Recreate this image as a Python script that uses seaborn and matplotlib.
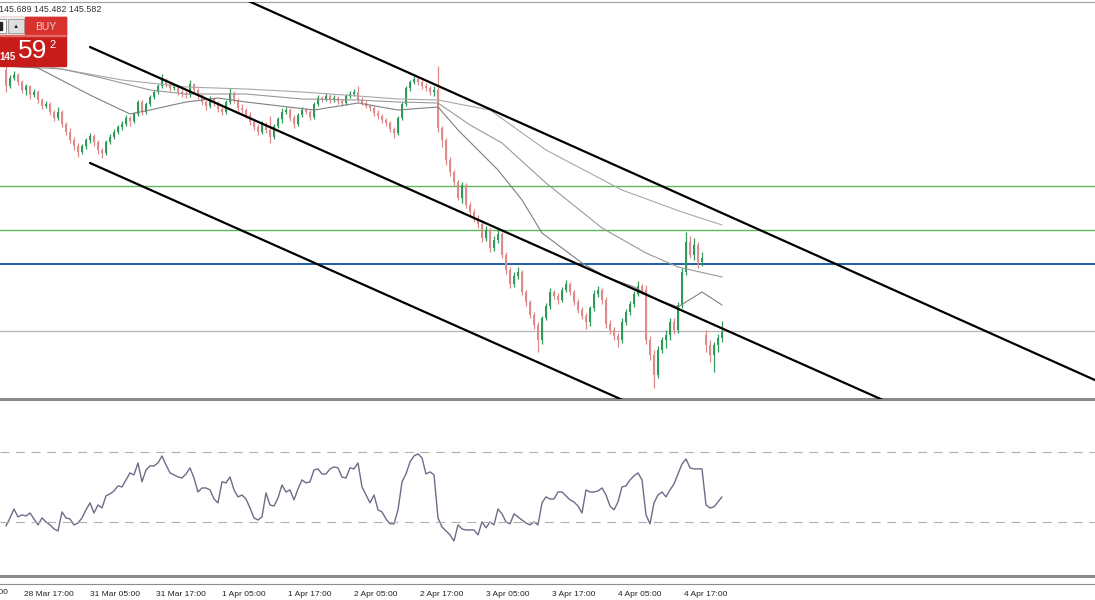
import matplotlib
matplotlib.use("Agg")
import numpy as np
import pandas as pd
import matplotlib.pyplot as plt
from matplotlib.patches import Rectangle
import seaborn as sns

# ==============================
# DATA (H1 bars)
# ==============================
opens = [
    148.20, 148.04, 148.12, 148.15, 148.08, 148.00, 148.04, 147.95, 147.98, 147.90,
    147.84, 147.86, 147.78, 147.72, 147.78, 147.66, 147.58, 147.50, 147.44, 147.38,
    147.44, 147.50, 147.54, 147.48, 147.40, 147.37, 147.48, 147.53, 147.58, 147.63,
    147.66, 147.72, 147.69, 147.76, 147.88, 147.78, 147.86, 147.93, 147.98, 148.04,
    148.10, 148.06, 148.02, 148.03, 147.98, 147.96, 147.95, 148.06, 148.00, 147.94,
    147.88, 147.84, 147.91, 147.87, 147.81, 147.78, 147.88, 147.97, 147.90, 147.82,
    147.80, 147.75, 147.68, 147.63, 147.58, 147.66, 147.60, 147.53, 147.64, 147.71,
    147.78, 147.80, 147.72, 147.66, 147.75, 147.80, 147.78, 147.73, 147.86, 147.92,
    147.91, 147.94, 147.90, 147.92, 147.89, 147.87, 147.94, 147.96, 147.98, 147.90,
    147.87, 147.84, 147.82, 147.77, 147.74, 147.70, 147.67, 147.61, 147.57, 147.72,
    147.86, 148.02, 148.08, 148.11, 148.08, 148.04, 148.02, 147.98, 148.00, 147.62,
    147.50, 147.30, 147.18, 147.08, 146.92, 147.05, 146.85, 146.78, 146.72, 146.66,
    146.52, 146.60, 146.42, 146.50, 146.56, 146.35, 146.20, 146.06, 146.14, 146.18,
    145.98, 145.88, 145.75, 145.65, 145.50, 145.72, 145.84, 145.98, 145.94, 145.90,
    146.00, 146.06, 145.98, 145.88, 145.80, 145.74, 145.68, 145.82, 145.96, 146.00,
    145.90, 145.66, 145.60, 145.54, 145.50, 145.68, 145.78, 145.86, 145.96, 146.04,
    146.00, 145.50, 145.35, 145.15, 145.40, 145.50, 145.55, 145.68, 145.60, 145.85,
    146.18, 146.48, 146.35, 146.45, 146.28, 145.55, 145.45, 145.35, 145.45, 145.52,
]
highs = [
    148.24, 148.15, 148.19, 148.17, 148.10, 148.06, 148.05, 148.01, 148.00, 147.92,
    147.89, 147.88, 147.80, 147.83, 147.80, 147.68, 147.62, 147.53, 147.47, 147.46,
    147.52, 147.57, 147.56, 147.50, 147.42, 147.50, 147.56, 147.61, 147.65, 147.69,
    147.75, 147.74, 147.78, 147.90, 147.90, 147.88, 147.95, 148.00, 148.06, 148.16,
    148.12, 148.08, 148.05, 148.05, 148.01, 147.99, 148.10, 148.07, 148.02, 147.96,
    147.90, 147.94, 147.93, 147.89, 147.83, 147.90, 148.02, 147.99, 147.92, 147.86,
    147.82, 147.78, 147.70, 147.66, 147.69, 147.68, 147.74, 147.66, 147.73, 147.82,
    147.83, 147.82, 147.75, 147.77, 147.83, 147.82, 147.80, 147.88, 147.95, 147.94,
    147.97, 147.96, 147.95, 147.94, 147.91, 147.96, 147.99, 148.01, 148.04, 147.93,
    147.89, 147.86, 147.84, 147.80, 147.76, 147.72, 147.69, 147.63, 147.74, 147.88,
    148.04, 148.10, 148.14, 148.13, 148.10, 148.07, 148.04, 148.04, 148.24, 147.64,
    147.52, 147.33, 147.20, 147.10, 147.08, 147.07, 146.88, 146.81, 146.75, 146.69,
    146.64, 146.62, 146.54, 146.61, 146.58, 146.38, 146.23, 146.18, 146.23, 146.20,
    146.00, 145.90, 145.78, 145.68, 145.74, 145.87, 146.02, 146.00, 145.97, 146.03,
    146.10, 146.08, 146.00, 145.91, 145.83, 145.77, 145.84, 146.00, 146.04, 146.02,
    145.93, 145.70, 145.63, 145.57, 145.72, 145.81, 145.89, 145.99, 146.09, 146.06,
    146.05, 145.54, 145.40, 145.44, 145.53, 145.60, 145.72, 145.72, 145.88, 146.22,
    146.58, 146.54, 146.52, 146.48, 146.38, 145.60, 145.50, 145.48, 145.56, 145.69,
]
lows = [
    147.98, 148.02, 148.10, 148.05, 147.97, 147.95, 147.91, 147.93, 147.87, 147.81,
    147.82, 147.75, 147.69, 147.70, 147.63, 147.55, 147.47, 147.40, 147.33, 147.36,
    147.41, 147.47, 147.44, 147.36, 147.32, 147.35, 147.46, 147.51, 147.56, 147.60,
    147.64, 147.64, 147.67, 147.74, 147.75, 147.76, 147.84, 147.91, 147.96, 148.02,
    148.03, 147.99, 148.00, 147.95, 147.93, 147.92, 147.93, 147.97, 147.91, 147.85,
    147.80, 147.82, 147.84, 147.78, 147.75, 147.76, 147.86, 147.87, 147.79, 147.77,
    147.72, 147.65, 147.60, 147.55, 147.56, 147.57, 147.47, 147.51, 147.62, 147.67,
    147.76, 147.69, 147.62, 147.64, 147.73, 147.76, 147.70, 147.71, 147.84, 147.88,
    147.89, 147.87, 147.88, 147.86, 147.84, 147.85, 147.92, 147.94, 147.88, 147.85,
    147.82, 147.79, 147.74, 147.71, 147.67, 147.64, 147.58, 147.52, 147.55, 147.70,
    147.84, 147.99, 148.06, 148.05, 148.01, 147.99, 147.95, 147.94, 147.58, 147.43,
    147.25, 147.14, 147.04, 146.90, 146.87, 146.82, 146.75, 146.68, 146.62, 146.48,
    146.49, 146.38, 146.39, 146.47, 146.32, 146.16, 146.02, 146.03, 146.11, 145.95,
    145.84, 145.72, 145.61, 145.38, 145.46, 145.70, 145.81, 145.91, 145.86, 145.88,
    145.98, 145.95, 145.85, 145.77, 145.71, 145.61, 145.64, 145.79, 145.93, 145.86,
    145.62, 145.56, 145.50, 145.43, 145.47, 145.65, 145.75, 145.83, 145.94, 145.96,
    145.46, 145.30, 145.02, 145.12, 145.37, 145.42, 145.50, 145.56, 145.57, 145.82,
    146.15, 146.32, 146.30, 146.22, 146.24, 145.38, 145.28, 145.18, 145.38, 145.48,
]
closes = [
    148.04, 148.12, 148.15, 148.08, 148.00, 148.04, 147.95, 147.98, 147.90, 147.84,
    147.86, 147.78, 147.72, 147.78, 147.66, 147.58, 147.50, 147.44, 147.38, 147.44,
    147.50, 147.54, 147.48, 147.40, 147.37, 147.48, 147.53, 147.58, 147.63, 147.66,
    147.72, 147.69, 147.76, 147.88, 147.78, 147.86, 147.93, 147.98, 148.04, 148.10,
    148.06, 148.02, 148.03, 147.98, 147.96, 147.95, 148.06, 148.00, 147.94, 147.88,
    147.84, 147.91, 147.87, 147.81, 147.78, 147.88, 147.97, 147.90, 147.82, 147.80,
    147.75, 147.68, 147.63, 147.58, 147.66, 147.60, 147.53, 147.64, 147.71, 147.78,
    147.80, 147.72, 147.66, 147.75, 147.80, 147.78, 147.73, 147.86, 147.92, 147.91,
    147.94, 147.90, 147.92, 147.89, 147.87, 147.94, 147.96, 147.98, 147.90, 147.87,
    147.84, 147.82, 147.77, 147.74, 147.70, 147.67, 147.61, 147.57, 147.72, 147.86,
    148.02, 148.08, 148.11, 148.08, 148.04, 148.02, 147.98, 148.00, 147.62, 147.50,
    147.30, 147.18, 147.08, 146.92, 147.05, 146.85, 146.78, 146.72, 146.66, 146.52,
    146.60, 146.42, 146.50, 146.56, 146.35, 146.20, 146.06, 146.14, 146.18, 145.98,
    145.88, 145.75, 145.65, 145.50, 145.72, 145.84, 145.98, 145.94, 145.90, 146.00,
    146.06, 145.98, 145.88, 145.80, 145.74, 145.68, 145.82, 145.96, 146.00, 145.90,
    145.66, 145.60, 145.54, 145.50, 145.68, 145.78, 145.86, 145.96, 146.04, 146.00,
    145.50, 145.35, 145.15, 145.40, 145.50, 145.55, 145.68, 145.60, 145.85, 146.18,
    146.48, 146.35, 146.45, 146.28, 146.32, 145.45, 145.35, 145.45, 145.52, 145.58,
]
rsi = [
    27.7, 32.3, 37.4, 32.9, 34.0, 33.4, 35.1, 31.7, 28.3, 32.3,
    30.0, 28.3, 26.0, 24.9, 35.7, 32.3, 31.7, 28.3, 29.4, 32.3,
    36.9, 40.9, 35.1, 39.7, 38.0, 44.9, 46.0, 47.7, 50.6, 50.0,
    54.0, 58.0, 56.9, 63.7, 52.9, 59.7, 62.0, 62.0, 63.7, 67.7,
    62.6, 58.0, 56.9, 55.7, 55.1, 57.4, 60.9, 55.1, 47.1, 49.4,
    49.4, 48.3, 43.1, 40.9, 52.9, 52.3, 55.7, 48.3, 44.3, 45.4,
    43.1, 38.0, 32.3, 31.1, 32.9, 46.6, 39.7, 39.1, 43.7, 51.1,
    47.1, 48.3, 42.6, 48.9, 54.0, 52.3, 52.9, 59.7, 60.3, 57.4,
    57.4, 60.3, 61.4, 60.9, 55.7, 55.1, 60.9, 60.3, 63.7, 50.0,
    45.4, 40.9, 45.4, 36.9, 35.7, 31.7, 28.9, 28.9, 36.9, 52.9,
    57.4, 64.3, 67.7, 68.9, 66.6, 57.4, 58.6, 56.9, 32.3, 27.1,
    24.9, 22.6, 19.1, 28.3, 26.0, 25.4, 25.4, 25.4, 22.6, 30.0,
    26.6, 30.0, 28.3, 37.4, 34.6, 30.0, 28.9, 34.6, 32.9, 31.1,
    29.4, 28.3, 30.0, 28.3, 40.9, 44.3, 43.1, 43.1, 47.1, 47.1,
    44.9, 42.6, 41.4, 39.1, 35.1, 48.3, 47.1, 47.1, 47.7, 49.4,
    45.4, 39.1, 36.9, 41.4, 50.0, 50.6, 54.0, 56.3, 58.0, 54.0,
    34.0, 28.9, 40.9, 45.4, 47.1, 44.3, 48.3, 51.7, 57.4, 63.1,
    66.0, 60.9, 60.3, 60.3, 60.3, 39.7, 38.0, 38.6, 41.4, 44.3,
]

# moving averages, read at a few bars along each line
ma_slow_bar = [0, 11, 29, 45, 60, 74, 88, 98, 108, 121, 135, 154, 169, 179]
ma_slow = [148.26, 148.23, 148.10, 148.03, 148.01, 147.98, 147.94, 147.91, 147.90,
           147.80, 147.40, 147.00, 146.78, 146.65]
ma_mid_bar = [0, 14, 24, 36, 45, 60, 74, 88, 98, 108, 116, 124, 135, 149, 160, 168, 179]
ma_mid = [148.24, 148.21, 148.12, 148.00, 147.96, 147.96, 147.91, 147.90, 147.88,
          147.87, 147.65, 147.47, 147.07, 146.62, 146.37, 146.23, 146.13]
ma_fast_bar = [0, 8, 21, 31, 36, 45, 53, 60, 77, 88, 98, 108, 113, 118, 123, 129,
               134, 144, 150, 157, 163, 168, 174, 179]
ma_fast = [148.24, 148.22, 147.95, 147.76, 147.80, 147.88, 147.92, 147.88, 147.80,
           147.87, 147.80, 147.83, 147.60, 147.40, 147.20, 146.90, 146.57, 146.27,
           146.13, 146.03, 145.90, 145.83, 145.98, 145.85]

# trend channel anchors (bar, price)
chan_upper_bar = [50, 275]
chan_upper = [149.08, 145.05]
chan_mid_bar = [21, 240]
chan_mid = [148.43, 144.53]
chan_low_bar = [21, 180]
chan_low = [147.27, 144.44]

green_levels = [147.04, 146.60]
blue_level = 146.26
bid_price = 145.59

time_labels = ["28 Mar 05:00", "28 Mar 17:00", "31 Mar 05:00", "31 Mar 17:00",
               "1 Apr 05:00", "1 Apr 17:00", "2 Apr 05:00", "2 Apr 17:00",
               "3 Apr 05:00", "3 Apr 17:00", "4 Apr 05:00", "4 Apr 17:00"]

# ==============================
# STYLE
# ==============================
sns.set_theme(style="white")
plt.rcParams["font.family"] = ["Liberation Sans", "DejaVu Sans"]

UP = "#2f9a5a"
DOWN = "#e08a8a"
BORDER = "#8a8a8a"

W, H = 1095, 600
fig = plt.figure(figsize=(W / 100, H / 100), dpi=100, facecolor="white")


def px_axes(x0, y0, x1, y1):
    return fig.add_axes([x0 / W, 1 - y1 / H, (x1 - x0) / W, (y1 - y0) / H])


ax = px_axes(0, 2, W, 399)
ax_rsi = px_axes(0, 401, W, 576)
ax_t = px_axes(0, 583, W, 583.5)

xlim = (-1.5, 272.25)

# ==============================
# MAIN PANEL: candles + lines
# ==============================
df = pd.DataFrame({"open": opens, "high": highs, "low": lows, "close": closes})
df["bar"] = np.arange(len(df))
colors = np.where(df["close"] >= df["open"], UP, DOWN)

ax.vlines(df["bar"], df["low"], df["high"], colors=colors, lw=0.9, zorder=2)
ax.bar(df["bar"], (df["close"] - df["open"]).abs().clip(lower=0.012),
       bottom=df[["open", "close"]].min(axis=1), width=0.72,
       color=colors, linewidth=0, zorder=2)

for lvl in green_levels:
    ax.axhline(lvl, color="#5cb85c", lw=1.0, zorder=1)
ax.axhline(blue_level, color="#1f5fa6", lw=1.4, zorder=1)
ax.axhline(bid_price, color="#b4b4b4", lw=0.9, zorder=1)

sns.lineplot(x=ma_slow_bar, y=ma_slow, ax=ax, color="#a8a8a8", lw=0.8, sort=False, zorder=3)
sns.lineplot(x=ma_mid_bar, y=ma_mid, ax=ax, color="#999999", lw=0.8, sort=False, zorder=3)
sns.lineplot(x=ma_fast_bar, y=ma_fast, ax=ax, color="#808080", lw=0.8, sort=False, zorder=3)

for bx, by in [(chan_upper_bar, chan_upper), (chan_mid_bar, chan_mid), (chan_low_bar, chan_low)]:
    sns.lineplot(x=bx, y=by, ax=ax, color="black", lw=1.6, sort=False, zorder=4)

ax.set_xlim(*xlim)
ax.set_ylim(144.91, 148.88)
ax.set_xticks([])
ax.set_yticks([])
ax.set_xlabel("")
ax.set_ylabel("")
for side in ["left", "right"]:
    ax.spines[side].set_visible(False)
ax.spines["top"].set_color("#a0a0a0")
ax.spines["top"].set_linewidth(0.8)
ax.spines["bottom"].set_color(BORDER)
ax.spines["bottom"].set_linewidth(2.2)

# ==============================
# RSI PANEL
# ==============================
sns.lineplot(x=df["bar"], y=rsi, ax=ax_rsi, color="#6c6c88", lw=1.0)
for lvl in [70, 30]:
    ax_rsi.axhline(lvl, color="#b0b0b0", lw=0.8, ls=(0, (8, 6)))
ax_rsi.set_xlim(*xlim)
ax_rsi.set_ylim(-0.9, 99.1)
ax_rsi.set_xticks([])
ax_rsi.set_yticks([])
ax_rsi.set_xlabel("")
ax_rsi.set_ylabel("")
for side in ["left", "right", "top"]:
    ax_rsi.spines[side].set_visible(False)
ax_rsi.spines["bottom"].set_color(BORDER)
ax_rsi.spines["bottom"].set_linewidth(2.2)

# ==============================
# TIME AXIS
# ==============================
tick_pos = [4.5 + 16.5 * (j - 1) for j in range(len(time_labels))]
ax_t.set_xlim(*xlim)
ax_t.set_yticks([])
ax_t.set_xticks(tick_pos[1:])
ax_t.set_xticklabels(time_labels[1:], ha="left")
ax_t.tick_params(axis="x", direction="out", length=3, width=0.8, color="#888888",
                 labelsize=6, labelcolor="#222222", pad=2.5)
# first label sits left of the view, only its tail shows
ax_t.text(tick_pos[0], -11, time_labels[0], transform=ax_t.get_xaxis_transform(),
          fontsize=6, color="#222222", ha="left", va="top", clip_on=False)
for side in ["left", "right", "top"]:
    ax_t.spines[side].set_visible(False)
ax_t.spines["bottom"].set_color("#8c8c8c")
ax_t.spines["bottom"].set_linewidth(0.8)
ax_t.patch.set_alpha(0)

# ==============================
# ONE-CLICK PANEL + HEADER
# ==============================
ov = fig.add_axes([0, 0, 1, 1], zorder=10)
ov.set_xlim(0, W)
ov.set_ylim(H, 0)
ov.axis("off")
ov.patch.set_alpha(0)

ov.text(-1, 9, "145.689 145.482 145.582", fontsize=6.4, color="#333333", va="center")
ov.add_patch(Rectangle((0, 17), 66, 49, color="#c61d1b"))
ov.add_patch(Rectangle((0, 17), 25, 18, color="#ececec"))
ov.add_patch(Rectangle((-1, 19), 7, 14, facecolor="white", edgecolor="#8a8a8a", lw=0.6))
ov.add_patch(Rectangle((-1, 22), 3, 8, color="#222222"))
ov.add_patch(Rectangle((8, 19), 16, 14, facecolor="#dedede", edgecolor="#9a9a9a", lw=0.6))
ov.text(16, 26.5, "\u25b2", fontsize=4.5, ha="center", va="center", color="#222222")
ov.add_patch(Rectangle((25, 17), 41, 18, color="#d8322e"))
ov.add_patch(Rectangle((0, 35), 66, 0.8, color="#e46a66"))
ov.text(45.5, 26.5, "BUY", fontsize=7.5, color="#f6caca", ha="center", va="center")
ov.text(-1, 57, "145", fontsize=7, color="white", ha="left", va="center", fontweight="bold")
ov.text(33, 51, "59", fontsize=19, color="white", ha="center", va="center")
ov.text(53, 45, "2", fontsize=8, color="white", ha="center", va="center")

fig.savefig("out.png", dpi=100, facecolor="white")
